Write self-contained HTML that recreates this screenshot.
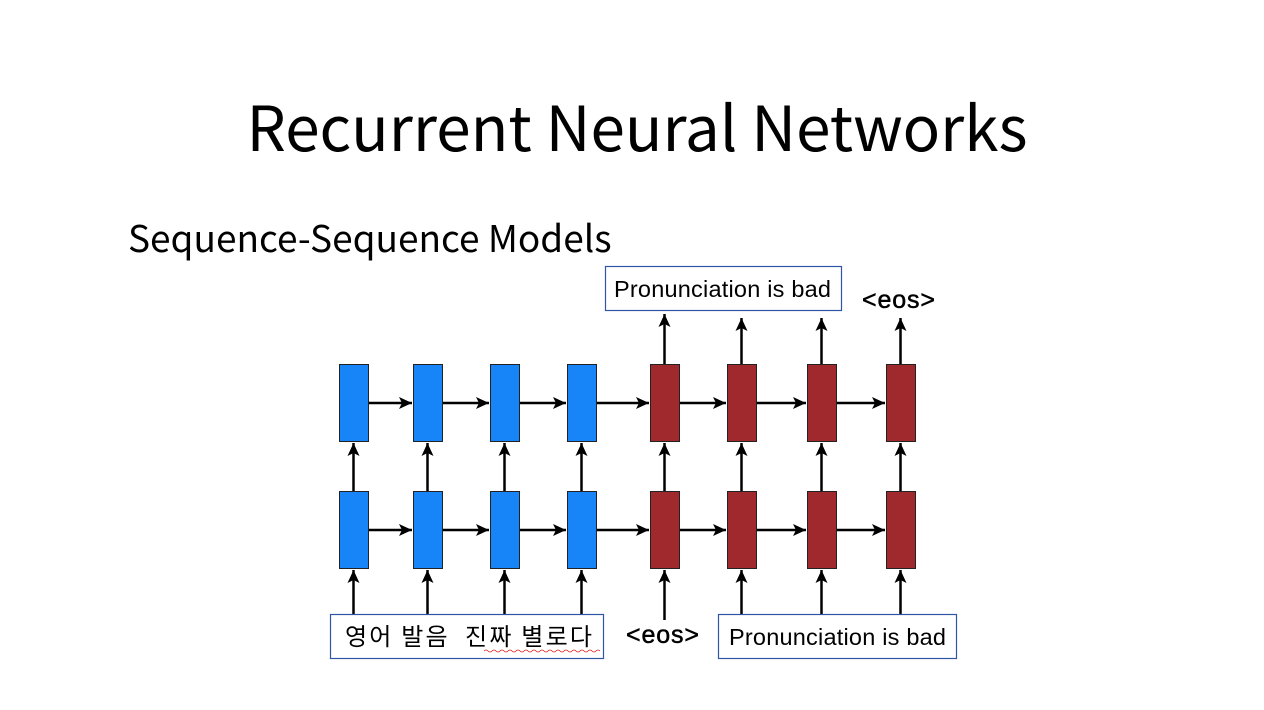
<!DOCTYPE html>
<html><head><meta charset="utf-8"><style>
body{margin:0;width:1264px;height:710px;background:#fff;overflow:hidden;position:relative;font-family:"Liberation Sans","Noto Sans CJK KR",sans-serif}
.t{position:absolute;white-space:nowrap}
</style></head><body>
<div class="t" style="left:0;width:1274px;text-align:center;top:84px;font-size:62px;font-family:'Noto Sans CJK KR','Liberation Sans',sans-serif;font-weight:400;line-height:80px">Recurrent Neural Networks</div>
<div class="t" style="left:128px;top:212px;font-size:37px;font-family:'Noto Sans CJK KR','Liberation Sans',sans-serif;font-weight:400;line-height:48px">Sequence-Sequence Models</div>
<svg width="1264" height="710" style="position:absolute;left:0;top:0">
<defs><marker id="a" markerWidth="14" markerHeight="14" refX="13" refY="6" orient="auto" markerUnits="userSpaceOnUse"><path d="M0,0L13,6L0,12L3,6z" fill="#000"/></marker></defs>
<g stroke="#000" stroke-width="2.5" marker-end="url(#a)">
<line x1="353.5" y1="614" x2="353.5" y2="570"/><line x1="427.5" y1="614" x2="427.5" y2="570"/><line x1="504.5" y1="614" x2="504.5" y2="570"/><line x1="581.5" y1="614" x2="581.5" y2="570"/>
<line x1="664.5" y1="620" x2="664.5" y2="570"/><line x1="741.5" y1="614" x2="741.5" y2="570"/><line x1="821.5" y1="614" x2="821.5" y2="570"/><line x1="900.5" y1="614" x2="900.5" y2="570"/>
<line x1="353.5" y1="491" x2="353.5" y2="443"/><line x1="427.5" y1="491" x2="427.5" y2="443"/><line x1="504.5" y1="491" x2="504.5" y2="443"/><line x1="581.5" y1="491" x2="581.5" y2="443"/>
<line x1="664.5" y1="491" x2="664.5" y2="443"/><line x1="741.5" y1="491" x2="741.5" y2="443"/><line x1="821.5" y1="491" x2="821.5" y2="443"/><line x1="900.5" y1="491" x2="900.5" y2="443"/>
<line x1="664.5" y1="364" x2="664.5" y2="314"/><line x1="741.5" y1="364" x2="741.5" y2="318"/><line x1="821.5" y1="364" x2="821.5" y2="318"/><line x1="900.5" y1="364" x2="900.5" y2="318"/>
<line x1="368" y1="403" x2="412" y2="403"/><line x1="442" y1="403" x2="489" y2="403"/><line x1="519" y1="403" x2="566" y2="403"/><line x1="596" y1="403" x2="649" y2="403"/><line x1="679" y1="403" x2="726" y2="403"/><line x1="756" y1="403" x2="806" y2="403"/><line x1="836" y1="403" x2="885" y2="403"/>
<line x1="368" y1="530" x2="412" y2="530"/><line x1="442" y1="530" x2="489" y2="530"/><line x1="519" y1="530" x2="566" y2="530"/><line x1="596" y1="530" x2="649" y2="530"/><line x1="679" y1="530" x2="726" y2="530"/><line x1="756" y1="530" x2="806" y2="530"/><line x1="836" y1="530" x2="885" y2="530"/>
</g>
<g stroke="#222" stroke-width="1">
<g fill="#1784f7"><rect x="339.5" y="364.5" width="29" height="77"/><rect x="413.5" y="364.5" width="29" height="77"/><rect x="490.5" y="364.5" width="29" height="77"/><rect x="567.5" y="364.5" width="29" height="77"/>
<rect x="339.5" y="491.5" width="29" height="77"/><rect x="413.5" y="491.5" width="29" height="77"/><rect x="490.5" y="491.5" width="29" height="77"/><rect x="567.5" y="491.5" width="29" height="77"/></g>
<g fill="#a0292e"><rect x="650.5" y="364.5" width="29" height="77"/><rect x="727.5" y="364.5" width="29" height="77"/><rect x="807.5" y="364.5" width="29" height="77"/><rect x="886.5" y="364.5" width="29" height="77"/>
<rect x="650.5" y="491.5" width="29" height="77"/><rect x="727.5" y="491.5" width="29" height="77"/><rect x="807.5" y="491.5" width="29" height="77"/><rect x="886.5" y="491.5" width="29" height="77"/></g>
</g>
<g fill="#fff" stroke="#2f55a4" stroke-width="1.2">
<rect x="605.5" y="266.5" width="236" height="44"/><rect x="330.5" y="614.5" width="273" height="44"/><rect x="718.5" y="614.5" width="238" height="44"/>
</g>
<g font-size="23.5" fill="#000">
<text x="614" y="297" textLength="217">Pronunciation is bad</text>
<text x="729" y="645" textLength="217">Pronunciation is bad</text>
<text x="345" y="645" font-family="Noto Sans CJK KR,sans-serif" font-size="24" xml:space="preserve" textLength="247">영어 발음  진짜 별로다</text>
<text x="862" y="308" font-size="25" stroke="#000" stroke-width="0.5" textLength="73">&lt;eos&gt;</text>
<text x="626" y="643" font-size="25" stroke="#000" stroke-width="0.5" textLength="73">&lt;eos&gt;</text>
</g>
<path d="M484,651 q2,-2 4,0 t4,0 t4,0 t4,0 t4,0 t4,0 t4,0 t4,0 t4,0 t4,0 t4,0 t4,0 t4,0 t4,0 t4,0 t4,0 t4,0 t4,0 t4,0 t4,0 t4,0 t4,0 t4,0 t4,0 t4,0 t4,0 t4,0 t4,0 t4,0" stroke="#e02020" fill="none" stroke-width="0.8"/>
</svg>
</body></html>
